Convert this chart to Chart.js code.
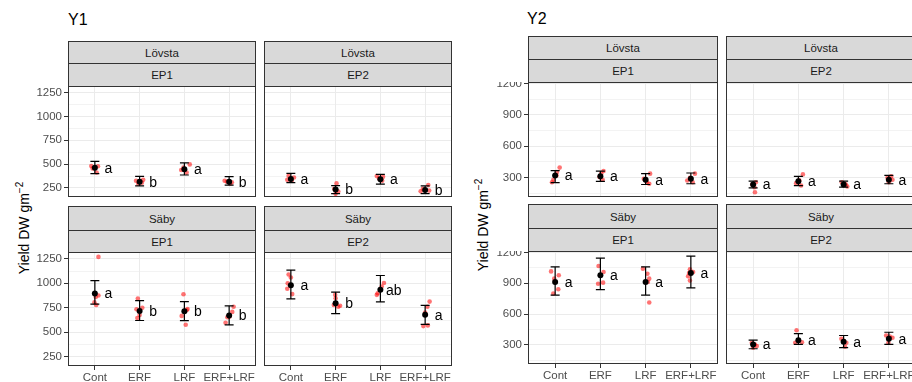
<!DOCTYPE html>
<html>
<head>
<meta charset="utf-8">
<script src="https://cdn.jsdelivr.net/npm/chart.js@4"></script>
<style>
  body { margin: 0; width: 912px; height: 382px; overflow: hidden; background: #fff; position: relative;
         font-family: "Liberation Sans", Arial, sans-serif; }
  .strip { position: absolute; box-sizing: border-box; background: #d9d9d9; border: 1px solid #333;
           color: #1a1a1a; font-size: 11.5px; display: flex; align-items: center; justify-content: center; }
  .title { position: absolute; font-size: 16px; color: #000; line-height: 18px; }
  .ylab { position: absolute; width: 130px; height: 18px; line-height: 18px; text-align: center; font-size: 14px;
          color: #000; transform: rotate(-90deg); white-space: nowrap; }
  .ylab sup { font-size: 10px; }
  canvas { position: absolute; }
</style>
</head>
<body>
<script>
// categories and facets
const categories = ['Cont', 'ERF', 'LRF', 'ERF+LRF'];
const sites = ['Lövsta', 'Lövsta', 'Säby', 'Säby'];
const periods = ['EP1', 'EP2', 'EP1', 'EP2'];

// tick values
const y1Major = [250, 500, 750, 1000, 1250];
const y1Minor = [375, 625, 875, 1125];
const y2Major = [300, 600, 900, 1200];
const y2Minor = [150, 450, 750, 1050];

// Y1: facet order Lövsta EP1, Lövsta EP2, Säby EP1, Säby EP2
const y1Mean = [
  [462, 315, 445, 315],
  [345, 233, 340, 228],
  [897, 716, 714, 672],
  [979, 795, 934, 678]
];
const y1Low = [
  [400, 272, 386, 279],
  [305, 190, 291, 190],
  [787, 620, 618, 576],
  [840, 690, 810, 580]
];
const y1High = [
  [528, 372, 514, 369],
  [402, 274, 392, 272],
  [1028, 823, 813, 769],
  [1135, 910, 1080, 775]
];
const y1Letters = [
  ['a', 'b', 'a', 'b'],
  ['a', 'b', 'a', 'b'],
  ['a', 'b', 'b', 'b'],
  ['a', 'b', 'ab', 'a']
];
const y1Obs = [
  [[480, 478, 455, 412], [335, 325, 305, 295], [497, 463, 438, 411], [325, 315, 309, 298]],
  [[377, 360, 335, 325], [298, 240, 212, 188], [376, 368, 350, 325], [281, 240, 222, 215]],
  [[1270, 875, 860, 805, 778], [845, 750, 735, 675, 645], [889, 737, 725, 667, 576], [761, 708, 660, 653, 597]],
  [[1090, 1060, 1000, 945, 890], [882, 847, 778, 771, 760], [1003, 968, 899, 882], [813, 761, 700, 570, 563]]
];
const y1Jitter = [
  [[-0.08, 0.07, -0.05, 0.04], [0.08, -0.08, 0.05, -0.03], [0.12, -0.02, -0.07, 0.05], [-0.1, -0.05, 0.06, 0.02]],
  [[-0.05, 0.07, -0.08, 0.02], [0.02, -0.03, 0.06, 0.0], [-0.08, 0.06, -0.03, 0.04], [0.07, -0.05, 0.09, -0.1]],
  [[0.08, 0.08, 0.02, -0.01, 0.03], [-0.04, 0.06, -0.07, 0.0, -0.05], [-0.02, 0.07, 0.05, -0.06, 0.03], [0.1, 0.07, 0.01, -0.04, -0.08]],
  [[-0.05, 0.0, -0.07, -0.08, 0.03], [-0.01, 0.0, -0.04, 0.1, 0.06], [0.08, 0.03, -0.06, -0.08], [0.1, 0.05, 0.0, 0.06, -0.04]]
];

// Y2
const y2Mean = [
  [319, 310, 278, 287],
  [232, 264, 232, 278],
  [913, 978, 913, 1000],
  [303, 345, 329, 358]
];
const y2Low = [
  [250, 261, 232, 239],
  [200, 222, 206, 239],
  [784, 838, 784, 855],
  [261, 303, 271, 303]
];
const y2High = [
  [365, 361, 336, 342],
  [264, 310, 264, 319],
  [1060, 1145, 1060, 1164],
  [345, 409, 390, 422]
];
const y2Letters = [
  ['a', 'a', 'a', 'a'],
  ['a', 'a', 'a', 'a'],
  ['a', 'a', 'a', 'a'],
  ['a', 'a', 'a', 'a']
];
const y2Obs = [
  [[394, 351, 319, 278, 254], [361, 336, 303, 278], [336, 287, 254, 239], [336, 297, 270, 254]],
  [[254, 232, 206, 157], [329, 271, 245, 222], [254, 238, 232, 213], [310, 297, 278, 254]],
  [[1016, 978, 945, 842, 800], [1068, 1010, 906, 896], [1042, 993, 945, 913, 712], [1036, 1010, 1000, 968, 926]],
  [[319, 303, 287, 271], [441, 335, 325, 319], [358, 338, 319, 280], [390, 380, 368, 319]]
];
const y2Jitter = [
  [[0.1, 0.04, 0.03, -0.04, -0.07], [0.07, 0.02, -0.02, 0.05], [0.1, -0.04, 0.03, 0.08], [0.09, -0.02, -0.08, 0.04]],
  [[0.06, -0.02, 0.03, 0.04], [0.1, 0.02, -0.05, 0.06], [-0.04, 0.02, 0.05, 0.08], [0.05, -0.03, 0.08, 0.0]],
  [[-0.09, 0.08, -0.02, 0.07, -0.04], [-0.04, 0.07, 0.06, -0.05], [-0.06, 0.04, 0.08, 0.05, 0.08], [-0.02, 0.05, -0.04, -0.06, -0.02]],
  [[-0.03, 0.04, 0.08, 0.0], [-0.04, 0.0, 0.08, -0.07], [-0.05, 0.0, 0.06, 0.03], [-0.06, 0.02, 0.08, -0.01]]
];

Chart.defaults.font.family = '"Liberation Sans", Arial, sans-serif';

const facetPlugin = {
  id: 'facet',
  beforeDatasetDraw(chart, args, opts) {
    if (args.index !== 1) return;
    const { ctx, scales: { x, y } } = chart;
    ctx.save();
    ctx.strokeStyle = '#000';
    ctx.lineWidth = 1.2;
    opts.mean.forEach((m, i) => {
      const cx = x.getPixelForValue(i + 1);
      const l = x.getPixelForValue(i + 0.9), r = x.getPixelForValue(i + 1.1);
      const yl = y.getPixelForValue(opts.low[i]), yh = y.getPixelForValue(opts.high[i]);
      ctx.beginPath();
      ctx.moveTo(cx, yl); ctx.lineTo(cx, yh);
      ctx.moveTo(l, yl); ctx.lineTo(r, yl);
      ctx.moveTo(l, yh); ctx.lineTo(r, yh);
      ctx.stroke();
    });
    ctx.restore();
  },
  afterDatasetsDraw(chart, args, opts) {
    const { ctx, scales: { x, y } } = chart;
    ctx.save();
    ctx.fillStyle = '#000';
    ctx.font = '14px "Liberation Sans", Arial, sans-serif';
    ctx.textAlign = 'center';
    ctx.textBaseline = 'middle';
    opts.letters.forEach((t, i) => {
      ctx.fillText(t, x.getPixelForValue(i + 1.3), y.getPixelForValue(opts.mean[i]) + 1);
    });
    const a = chart.chartArea;
    ctx.strokeStyle = '#333';
    ctx.lineWidth = 1;
    ctx.strokeRect(a.left + 0.5, a.top + 0.5, a.right - a.left - 1, a.bottom - a.top - 1);
    ctx.restore();
  }
};

const plots = [
  { title: 'Y1', titleX: 68, titleY: 11, ylabX: 20, ylabY: 228, cols: [68, 264], colW: 188,
    rows: [[41, 63, 86, 197], [206, 230, 252, 366]], yMin: 155, yMax: 1320,
    major: y1Major, minor: y1Minor, mean: y1Mean, low: y1Low, high: y1High, letters: y1Letters, obs: y1Obs, jitter: y1Jitter },
  { title: 'Y2', titleX: 527, titleY: 10, ylabX: 479, ylabY: 225, cols: [528, 726], colW: 190,
    rows: [[36, 59, 82, 197], [204, 228, 251, 364]], yMin: 112, yMax: 1215,
    major: y2Major, minor: y2Minor, mean: y2Mean, low: y2Low, high: y2High, letters: y2Letters, obs: y2Obs, jitter: y2Jitter }
];

function addDiv(cls, html, style) {
  const d = document.createElement('div');
  d.className = cls;
  d.innerHTML = html;
  Object.assign(d.style, style);
  document.body.appendChild(d);
  return d;
}

plots.forEach(p => {
  addDiv('title', p.title, { left: p.titleX + 'px', top: p.titleY + 'px' });
  addDiv('ylab', 'Yield DW gm<sup>\u22122</sup>', { left: (p.ylabX - 65) + 'px', top: (p.ylabY - 9) + 'px' });

  for (let f = 0; f < 4; f++) {
    const col = f % 2, row = Math.floor(f / 2);
    const x0 = p.cols[col];
    const [s1, s2, top, bottom] = p.rows[row];
    addDiv('strip', sites[f], { left: x0 + 'px', top: s1 + 'px', width: p.colW + 'px', height: (s2 - s1 + 1) + 'px' });
    addDiv('strip', periods[f], { left: x0 + 'px', top: s2 + 'px', width: p.colW + 'px', height: (top - s2 + 1) + 'px' });

    const showY = col === 0, showX = row === 1;
    const axisW = showY ? 44 : 0, axisH = showX ? 18 : 0;
    const cv = document.createElement('canvas');
    cv.width = p.colW + axisW;
    cv.height = bottom - top + axisH;
    cv.style.left = (x0 - axisW) + 'px';
    cv.style.top = top + 'px';
    document.body.appendChild(cv);

    const pts = [];
    p.obs[f].forEach((vals, i) => vals.forEach((v, k) => pts.push({ x: i + 1 + p.jitter[f][i][k], y: v })));
    const means = p.mean[f].map((m, i) => ({ x: i + 1, y: m }));
    const yTicks = p.major.concat(p.minor);

    new Chart(cv.getContext('2d'), {
      type: 'scatter',
      data: {
        datasets: [
          { data: pts, pointRadius: 2.3, pointHoverRadius: 2.3, backgroundColor: 'rgba(255,0,0,0.55)', borderWidth: 0, order: 2 },
          { data: means, pointRadius: 3, pointHoverRadius: 3, backgroundColor: '#000', borderWidth: 0, order: 1 }
        ]
      },
      options: {
        responsive: false,
        animation: false,
        events: [],
        layout: { padding: 0, autoPadding: false },
        plugins: {
          legend: { display: false },
          tooltip: { enabled: false },
          facet: { mean: p.mean[f], low: p.low[f], high: p.high[f], letters: p.letters[f] }
        },
        scales: {
          x: {
            type: 'linear', min: 0.4, max: 4.6,
            afterBuildTicks: s => { s.ticks = [1, 2, 3, 4].map(v => ({ value: v })); },
            afterFit: s => { s.height = axisH; s.paddingLeft = 0; s.paddingRight = 0; },
            border: { display: false },
            grid: { color: '#ebebeb', lineWidth: 1, drawTicks: showX, tickLength: 4, tickColor: '#333' },
            ticks: { display: showX, padding: 1, color: '#4d4d4d', font: { size: 11.5 }, maxRotation: 0, autoSkip: false,
                     callback: v => categories[v - 1] }
          },
          y: {
            min: p.yMin, max: p.yMax,
            afterBuildTicks: s => { s.ticks = yTicks.map(v => ({ value: v })); },
            afterFit: s => { s.width = axisW; s.paddingTop = 0; s.paddingBottom = 0; },
            border: { display: false },
            grid: {
              color: '#ebebeb',
              lineWidth: c => (c.tick && p.major.includes(c.tick.value)) ? 1 : 0.6,
              drawTicks: showY, tickLength: 4,
              tickColor: c => (c.tick && p.major.includes(c.tick.value)) ? '#333' : 'rgba(0,0,0,0)'
            },
            ticks: { display: showY, padding: 2, color: '#4d4d4d', font: { size: 11.5 }, autoSkip: false,
                     callback: v => p.major.includes(v) ? String(v) : '' }
          }
        }
      },
      plugins: [facetPlugin]
    });
  }
});
</script>
</body>
</html>
